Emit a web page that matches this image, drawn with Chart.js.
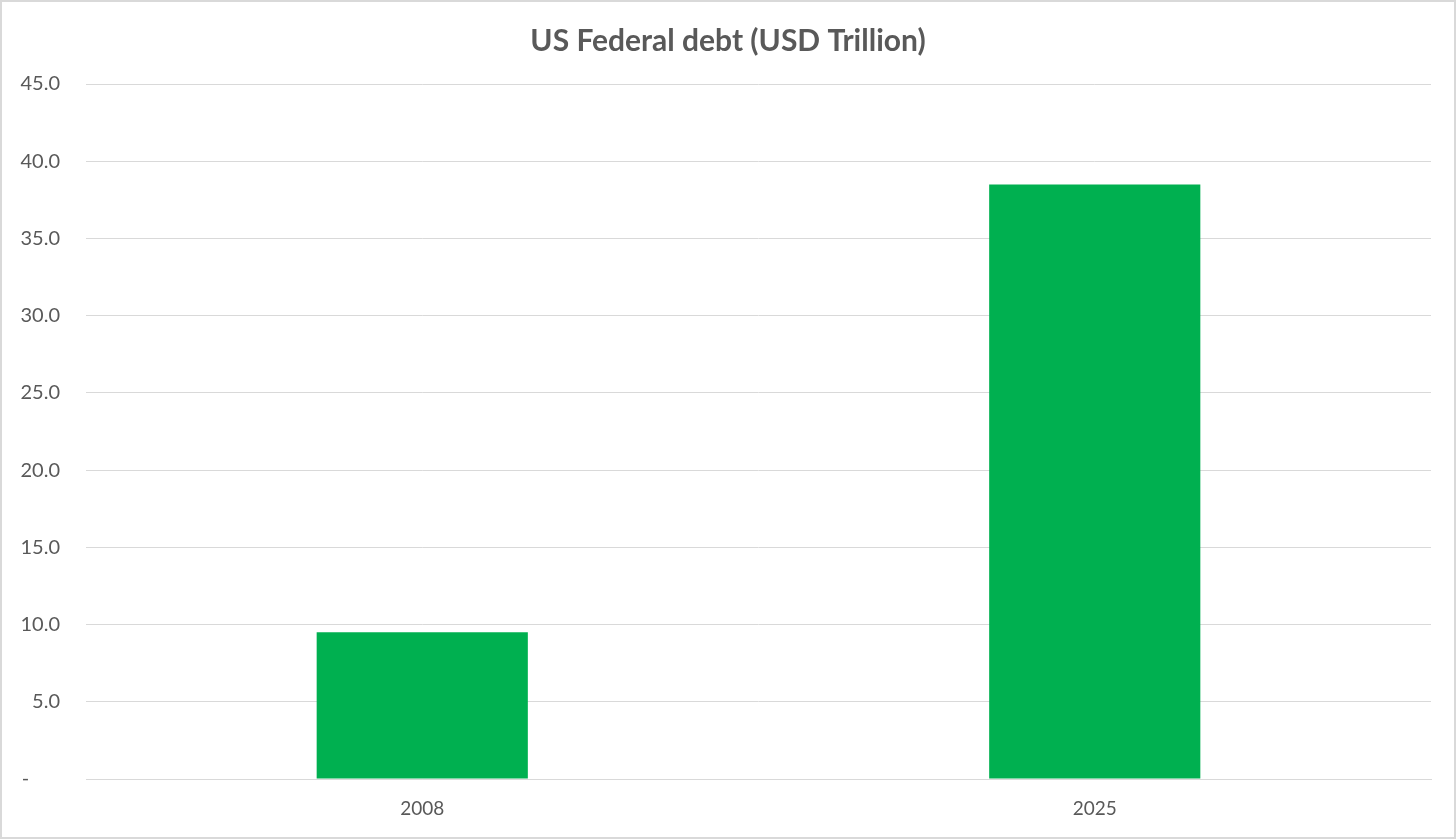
<!DOCTYPE html>
<html>
<head>
<meta charset="utf-8">
<script src="https://cdn.jsdelivr.net/npm/chart.js@4.4.0/dist/chart.umd.min.js"></script>
<style>
  html, body { margin: 0; padding: 0; background: #fff; }
  #wrap { position: relative; width: 1456px; height: 839px; }
  #wrap::after {
    content: ''; position: absolute; inset: 0;
    border: 2px solid #d9d9d9; pointer-events: none;
  }
</style>
</head>
<body>
<div id="wrap"><canvas id="debtChart"></canvas></div>
<script>
const years = ['2008', '2025'];
const debtTrillion = [9.5, 38.5];
const yMin = 0;
const yMax = 45;
const yStep = 5;

const textGrey = '#595959';
const gridGrey = '#d9d9d9';

const ctx = document.getElementById('debtChart').getContext('2d');
const chart = new Chart(ctx, {
    type: 'bar',
    data: {
        labels: years,
        datasets: [{
            label: 'US Federal debt (USD Trillion)',
            data: debtTrillion,
            backgroundColor: '#00b050',
            borderWidth: 0,
            categoryPercentage: 1,
            barPercentage: 0.314
        }]
    },
    options: {
        responsive: true,
        maintainAspectRatio: false,
        animation: false,
        layout: { padding: 0 },
        plugins: {
            legend: { display: false },
            tooltip: { enabled: false },
            title: {
                display: true,
                text: 'US Federal debt (USD Trillion)',
                color: textGrey,
                font: { family: 'Lato', size: 30, weight: 'bold', lineHeight: 1.2 },
                padding: { top: 23, bottom: 25 }
            }
        },
        scales: {
            x: {
                grid: { display: false, drawTicks: false },
                border: { display: true, color: gridGrey, width: 1 },
                ticks: {
                    color: textGrey,
                    font: { family: 'Lato', size: 19 },
                    padding: 18
                },
                afterFit: (scale) => { scale.height = 60; }
            },
            y: {
                min: yMin,
                max: yMax,
                grid: { color: gridGrey, lineWidth: 1, drawTicks: false },
                border: { display: false },
                ticks: {
                    stepSize: yStep,
                    color: textGrey,
                    font: { family: 'Lato', size: 20 },
                    padding: 26,
                    callback: (v) => v === 0 ? '-      ' : v.toFixed(1)
                },
                afterFit: (scale) => { scale.width = 86; }
            },
            // empty right-hand axis, only keeps the plot clear of the right edge
            gap: {
                type: 'linear',
                position: 'right',
                grid: { display: false, drawTicks: false },
                border: { display: false },
                ticks: { display: false },
                afterFit: (scale) => { scale.width = 25; }
            }
        }
    }
});
</script>
</body>
</html>
